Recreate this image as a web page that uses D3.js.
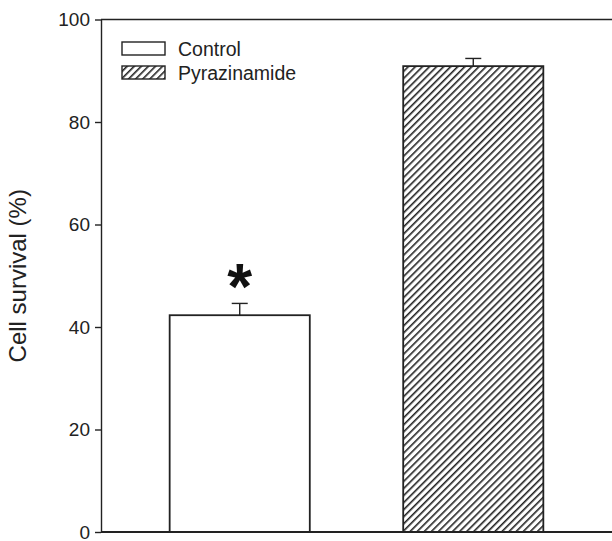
<!DOCTYPE html>
<html>
<head>
<meta charset="utf-8">
<script src="https://cdn.jsdelivr.net/npm/d3@7"></script>
<style>
  html, body { margin: 0; padding: 0; background: #fff; }
  svg { display: block; }
  text { font-family: "Liberation Sans", Arial, sans-serif; fill: #222; }
</style>
</head>
<body>
<svg id="chart" width="612" height="541"></svg>
<script>
// ---- data ----
const categories = ["Control", "Pyrazinamide"];
const survival = [42.3, 90.9];
const errors = [2.3, 1.5];
const yTicks = [0, 20, 40, 60, 80, 100];
const significance = ["*", ""];
const yLabel = "Cell survival (%)";

(function () {
const svg = d3.select("#chart");
const mLeft = 101, mRight = 612, mTop = 19.5, mBottom = 532;

const defs = svg.append("defs");
const pat = defs.append("pattern")
  .attr("id", "hatch")
  .attr("patternUnits", "userSpaceOnUse")
  .attr("width", 5).attr("height", 5)
  .attr("patternTransform", "rotate(45)");
pat.append("rect").attr("width", 5).attr("height", 5).attr("fill", "#fff");
pat.append("line").attr("x1", 0).attr("y1", 0).attr("x2", 0).attr("y2", 5)
  .attr("stroke", "#222").attr("stroke-width", 3.2);

const x = d3.scaleBand().domain(categories).range([mLeft, mRight])
  .paddingInner(0.4).paddingOuter(0.294);
const y = d3.scaleLinear().domain([0, 100]).range([mBottom, mTop]);

const fills = ["#fff", "url(#hatch)"];

// bars
svg.selectAll("rect.bar").data(categories).enter().append("rect")
  .attr("class", "bar")
  .attr("x", d => x(d))
  .attr("y", (d, i) => y(survival[i]))
  .attr("width", x.bandwidth())
  .attr("height", (d, i) => y(0) - y(survival[i]))
  .attr("fill", (d, i) => fills[i])
  .attr("stroke", "#222").attr("stroke-width", 1.8);

// error bars
const eb = svg.selectAll("g.err").data(categories).enter().append("g").attr("class", "err");
eb.append("line")
  .attr("x1", d => x(d) + x.bandwidth() / 2)
  .attr("x2", d => x(d) + x.bandwidth() / 2)
  .attr("y1", (d, i) => y(survival[i]))
  .attr("y2", (d, i) => y(survival[i] + errors[i]))
  .attr("stroke", "#222").attr("stroke-width", 1.4);
eb.append("line")
  .attr("x1", d => x(d) + x.bandwidth() / 2 - 8)
  .attr("x2", d => x(d) + x.bandwidth() / 2 + 8)
  .attr("y1", (d, i) => y(survival[i] + errors[i]))
  .attr("y2", (d, i) => y(survival[i] + errors[i]))
  .attr("stroke", "#222").attr("stroke-width", 1.4);

// significance marks
svg.selectAll("text.sig").data(categories).enter().append("text")
  .attr("class", "sig")
  .attr("x", d => x(d) + x.bandwidth() / 2)
  .attr("y", (d, i) => y(survival[i] + errors[i]) + 6)
  .attr("text-anchor", "middle")
  .attr("font-size", 64).attr("font-weight", "bold")
  .style("fill", "#111")
  .text((d, i) => significance[i]);

// y axis
const yAxis = d3.axisLeft(y).tickValues(yTicks).tickSize(6).tickSizeOuter(0).tickPadding(5);
const ga = svg.append("g").attr("transform", `translate(${mLeft},0)`).call(yAxis);
ga.select(".domain").attr("stroke", "#222").attr("stroke-width", 1.4);
ga.selectAll(".tick line").attr("stroke", "#222").attr("stroke-width", 1.4);
ga.selectAll(".tick text").attr("font-size", 19).style("fill", "#222")
  .attr("font-family", "'Liberation Sans', Arial, sans-serif");

// x axis baseline (no ticks)
svg.append("line").attr("x1", mLeft).attr("x2", mRight)
  .attr("y1", y(0)).attr("y2", y(0))
  .attr("stroke", "#222").attr("stroke-width", 2);
// top frame line
svg.append("line").attr("x1", mLeft).attr("x2", mRight)
  .attr("y1", y(100)).attr("y2", y(100))
  .attr("stroke", "#222").attr("stroke-width", 1.4);

// y label
svg.append("text")
  .attr("transform", `translate(26, ${(mTop + mBottom) / 2}) rotate(-90)`)
  .attr("text-anchor", "middle")
  .attr("font-size", 24)
  .text(yLabel);

// legend
const lg = svg.append("g").attr("transform", "translate(122, 42)");
const rowH = 24;
categories.forEach((c, i) => {
  lg.append("rect").attr("x", 0).attr("y", i * rowH).attr("width", 43).attr("height", 13)
    .attr("fill", fills[i]).attr("stroke", "#222").attr("stroke-width", 1.4);
  lg.append("text").attr("x", 56).attr("y", i * rowH + 6.5).attr("dy", "0.36em")
    .attr("font-size", 19.5).text(c);
});
})();
</script>
</body>
</html>
